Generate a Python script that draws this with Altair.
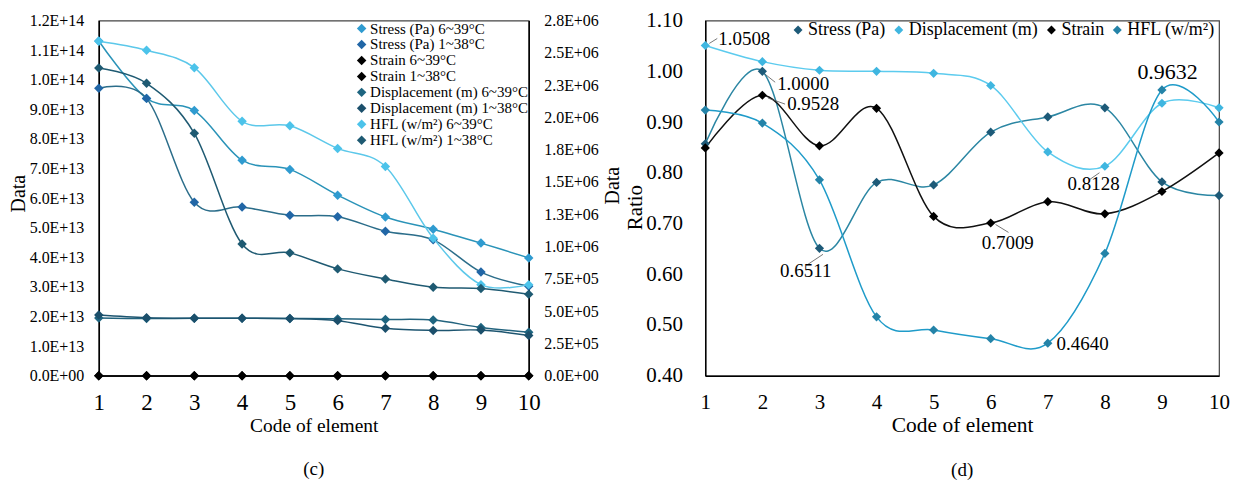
import altair as alt
import pandas as pd

FONT = "Liberation Serif"

codes = list(range(1, 11))

# ---------- panel (c) ----------
series_c = ["Stress (Pa) 6~39°C", "Stress (Pa) 1~38°C", "Strain 6~39°C", "Strain 1~38°C",
            "Displacement (m) 6~39°C", "Displacement (m) 1~38°C",
            "HFL (w/m²) 6~39°C", "HFL (w/m²) 1~38°C"]

# left axis series
stress_6_39 = [1.131e14, 9.37e13, 8.96e13, 7.28e13, 6.97e13, 6.10e13, 5.36e13, 4.95e13, 4.48e13, 3.98e13]
stress_1_38 = [9.71e13, 9.37e13, 5.86e13, 5.70e13, 5.42e13, 5.37e13, 4.88e13, 4.59e13, 3.50e13, 3.02e13]
strain_6_39 = [0, 0, 0, 0, 0, 0, 0, 0, 0, 0]
strain_1_38 = [0, 0, 0, 0, 0, 0, 0, 0, 0, 0]
disp_6_39 = [1.95e13, 1.93e13, 1.94e13, 1.94e13, 1.935e13, 1.92e13, 1.90e13, 1.88e13, 1.63e13, 1.47e13]
disp_1_38 = [2.05e13, 1.96e13, 1.94e13, 1.94e13, 1.93e13, 1.86e13, 1.60e13, 1.53e13, 1.54e13, 1.36e13]
# right axis series
hfl_6_39 = [2.59e6, 2.52e6, 2.385e6, 1.97e6, 1.935e6, 1.76e6, 1.62e6, 1.065e6, 7.05e5, 7.05e5]
hfl_1_38 = [2.383e6, 2.264e6, 1.877e6, 1.02e6, 9.51e5, 8.27e5, 7.49e5, 6.85e5, 6.75e5, 6.30e5]

left_ticks = [0, 1e13, 2e13, 3e13, 4e13, 5e13, 6e13, 7e13, 8e13, 9e13, 1e14, 1.1e14, 1.2e14]
right_ticks = [0, 2.5e5, 5e5, 7.5e5, 1e6, 1.25e6, 1.5e6, 1.75e6, 2e6, 2.25e6, 2.5e6, 2.75e6]

stroke_c = ["#2a93b8", "#2b6d8a", "#111111", "#111111", "#22637e", "#1d5570", "#5cc8ea", "#1f5a72"]
fill_c = ["#2f9bd0", "#2166a6", "#000000", "#000000", "#1e6580", "#1b4f6b", "#4cc3ea", "#1e5a72"]

# ---------- panel (d) ----------
series_d = ["Stress (Pa)", "Displacement (m)", "Strain", "HFL (w/m²)"]
ratio_stress = [0.857, 1.0000, 0.6511, 0.781, 0.776, 0.880, 0.910, 0.928, 0.782, 0.755]
ratio_disp = [1.0508, 1.019, 1.002, 1.000, 0.996, 0.972, 0.841, 0.8128, 0.937, 0.928]
ratio_strain = [0.849, 0.9528, 0.853, 0.927, 0.714, 0.7009, 0.743, 0.719, 0.763, 0.839]
ratio_hfl = [0.9235, 0.898, 0.786, 0.516, 0.490, 0.473, 0.4640, 0.641, 0.9632, 0.900]
ratio_ticks = [0.4, 0.5, 0.6, 0.7, 0.8, 0.9, 1.0, 1.1]

stroke_d = ["#2b86a3", "#5ccbee", "#111111", "#1f9bc9"]
fill_d = ["#1d5a78", "#3fb6e0", "#000000", "#2483a8"]

ann_labels = ["1.0508", "1.0000", "0.9528", "0.6511", "0.7009", "0.8128", "0.9632", "0.4640"]
ann_x = [1.227, 2.259, 2.434, 2.311, 5.843, 7.346, 8.57, 7.154]
ann_y = [1.0627, 0.9745, 0.9353, 0.606, 0.661, 0.778, 0.998, 0.463]
lead_x = [1.070, 2.049, 2.101, 3.062, 6.085, 7.905]
lead_y = [1.0549, 0.9941, 0.9471, 0.6392, 0.6980, 0.8000]
lead_x2 = [1.210, 2.224, 2.398, 2.800, 6.312, 7.730]
lead_y2 = [1.0647, 0.9784, 0.9353, 0.6196, 0.6824, 0.7863]


def long_df(names, arrays):
    rows = []
    for n, arr in zip(names, arrays):
        for c, v in zip(codes, arr):
            rows.append({"code": c, "value": v, "series": n})
    return pd.DataFrame(rows)


df_left = long_df(series_c[:6], [stress_6_39, stress_1_38, strain_6_39, strain_1_38, disp_6_39, disp_1_38])
df_right = long_df(series_c[6:], [hfl_6_39, hfl_1_38])
df_d = long_df(series_d, [ratio_stress, ratio_disp, ratio_strain, ratio_hfl])
df_ann = pd.DataFrame({"x": ann_x, "y": ann_y, "label": ann_labels})
df_lead = pd.DataFrame({"x": lead_x, "y": lead_y, "x2": lead_x2, "y2": lead_y2})

sci_left = "datum.value == 0 ? '0.0E+00' : replace(format(datum.value, '.1e'), 'e+', 'E+')"
sci_right = "datum.value == 0 ? '0.0E+00' : replace(format(datum.value, '.1e'), 'e+', 'E+0')"

common_axis = dict(grid=False, domainColor="#000000", domainWidth=1.5, labelColor="#000000",
                   titleColor="#000000", labelFont=FONT, titleFont=FONT, titleFontWeight="normal")

W_C, W_D, H = 431, 515, 356

# ---------- panel (c) chart ----------
x_c = alt.X("code:Q", scale=alt.Scale(domain=[1, 10], nice=False, zero=False),
            axis=alt.Axis(values=codes, format="d", title="Code of element", ticks=False,
                          labelFlush=False, labelFontSize=23, labelPadding=16, titleFontSize=19.5,
                          titleY=56, titleBaseline="alphabetic", **common_axis))

y_left = alt.Y("value:Q", scale=alt.Scale(domain=[0, 1.2e14], nice=False),
               axis=alt.Axis(values=left_ticks, labelExpr=sci_left, title="Data", orient="left",
                             ticks=False, labelPadding=15, labelFontSize=16, titleFontSize=20,
                             titleX=-74, titleY=173, titleAngle=270, titleBaseline="alphabetic",
                             **common_axis))
y_right = alt.Y("value:Q", scale=alt.Scale(domain=[0, 2.75e6], nice=False),
                axis=alt.Axis(values=right_ticks, labelExpr=sci_right, title="Data", orient="right",
                              ticks=False, labelPadding=15, labelFontSize=16, titleFontSize=20,
                              titleX=90, titleY=165, titleAngle=270, titleBaseline="alphabetic",
                              **common_axis))

# line colours use the same mapping written in reverse order, so that this (hidden)
# stroke legend is not merged with the marker legend
stroke_scale_c = alt.Scale(domain=series_c[::-1], range=stroke_c[::-1])
fill_scale_c = alt.Scale(domain=series_c, range=fill_c)
legend_c = alt.Legend(title=None, orient="none", legendX=256, legendY=0.5, symbolType="diamond",
                      symbolSize=90, symbolStrokeWidth=0, labelFont=FONT, labelFontSize=15,
                      labelColor="#000000", rowPadding=0, labelOffset=1, padding=0)


def line_layer(df, y):
    return alt.Chart(df).mark_line(interpolate="cardinal", strokeWidth=1.5).encode(
        x=x_c, y=y,
        stroke=alt.Stroke("series:N", scale=stroke_scale_c, legend=None),
        detail="series:N")


def point_layer(df, y):
    return alt.Chart(df).mark_point(shape="diamond", filled=True, size=90, opacity=1).encode(
        x=x_c, y=y,
        fill=alt.Fill("series:N", scale=fill_scale_c, legend=legend_c))


left_part = alt.layer(line_layer(df_left, y_left), point_layer(df_left, y_left))
right_part = alt.layer(line_layer(df_right, y_right), point_layer(df_right, y_right))

panel_c = alt.layer(left_part, right_part).resolve_scale(y="independent").properties(
    width=W_C, height=H,
    title=alt.TitleParams("(c)", orient="bottom", font=FONT, fontSize=19, fontWeight="normal",
                          color="#000000", offset=25))

# ---------- panel (d) chart ----------
xd_scale = alt.Scale(domain=[1, 10], nice=False, zero=False)
yd_scale = alt.Scale(domain=[0.4, 1.1], nice=False, zero=False)
x_d = alt.X("code:Q", scale=xd_scale,
            axis=alt.Axis(values=codes, format="d", title="Code of element", ticks=False,
                          labelFlush=False, labelFontSize=21, labelPadding=16, titleFontSize=21.5,
                          titleY=56, titleBaseline="alphabetic", **common_axis))
y_d = alt.Y("value:Q", scale=yd_scale,
            axis=alt.Axis(values=ratio_ticks, format=".2f", title="Ratio", ticks=False,
                          labelPadding=23, labelFontSize=21, titleFontSize=21,
                          titleX=-64, titleY=187, titleAngle=270, titleBaseline="alphabetic",
                          **common_axis))

legend_d = alt.Legend(title=None, orient="none", direction="horizontal", legendX=84, legendY=0.5,
                      symbolType="diamond", symbolSize=80, symbolStrokeWidth=0, labelFont=FONT,
                      labelFontSize=18, labelColor="#000000", columnPadding=4, labelOffset=1,
                      padding=0)

lines_d = alt.Chart(df_d).mark_line(interpolate="cardinal", strokeWidth=1.5).encode(
    x=x_d, y=y_d,
    stroke=alt.Stroke("series:N", scale=alt.Scale(domain=series_d[::-1], range=stroke_d[::-1]),
                      legend=None),
    detail="series:N")
points_d = alt.Chart(df_d).mark_point(shape="diamond", filled=True, size=85, opacity=1).encode(
    x=x_d, y=y_d,
    fill=alt.Fill("series:N", scale=alt.Scale(domain=series_d, range=fill_d), legend=legend_d))
leads = alt.Chart(df_lead).mark_rule(color="#555555", strokeWidth=0.8).encode(
    x=alt.X("x:Q", scale=xd_scale), y=alt.Y("y:Q", scale=yd_scale), x2="x2:Q", y2="y2:Q")
ann_small = alt.Chart(df_ann).transform_filter("datum.label != '0.9632'").mark_text(
    font=FONT, fontSize=19, align="left", baseline="middle", color="#000000").encode(
    x="x:Q", y="y:Q", text="label:N")
ann_big = alt.Chart(df_ann).transform_filter("datum.label == '0.9632'").mark_text(
    font=FONT, fontSize=22, align="left", baseline="middle", color="#000000").encode(
    x="x:Q", y="y:Q", text="label:N")

panel_d = alt.layer(lines_d, points_d, leads, ann_small, ann_big).properties(
    width=W_D, height=H,
    title=alt.TitleParams("(d)", orient="bottom", font=FONT, fontSize=19, fontWeight="normal",
                          color="#000000", offset=25))

chart = alt.hconcat(panel_c, panel_d, spacing=177, bounds="flush").resolve_scale(
    fill="independent", stroke="independent"
).resolve_legend(fill="independent", stroke="independent").properties(
    padding=0, background="white"
).configure_view(stroke="#444444", strokeWidth=1.2).configure_legend(labelFont=FONT)

chart.save("out.html", embed_options={"renderer": "svg", "actions": False})
